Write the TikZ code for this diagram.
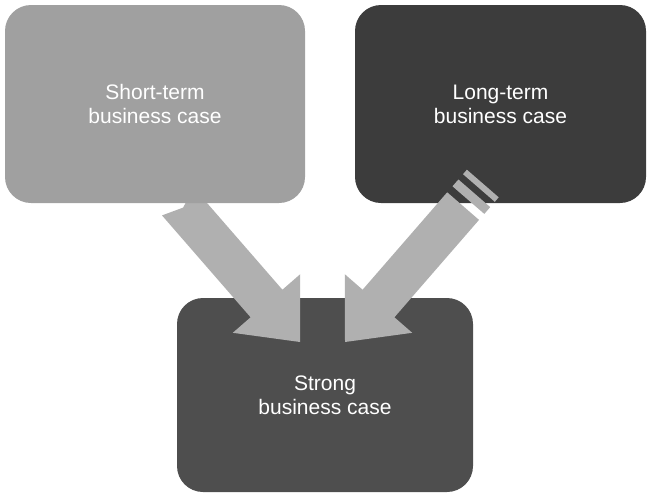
\documentclass[tikz,border=0pt]{standalone}
\usepackage{fontspec}
\setmainfont{Liberation Sans}
\begin{document}
\begin{tikzpicture}[x=1pt,y=-1pt,
  casebox/.style={rounded corners=26pt, inner sep=0pt, align=center,
    text=white, font=\fontsize{21}{24}\selectfont},
  blockarrow/.style={fill=arrowgray, draw=none}]
\definecolor{lightbox}{HTML}{A0A0A0}
\definecolor{darkbox}{HTML}{3C3C3C}
\definecolor{midbox}{HTML}{4E4E4E}
\definecolor{arrowgray}{HTML}{B0B0B0}
\useasboundingbox (0,0) rectangle (652,498);

% target box and the long-term box
\node[casebox, fill=midbox, minimum width=296pt, minimum height=194pt]
  (strong) at (325,395) {Strong\\business case};
\node[casebox, fill=darkbox, minimum width=291pt, minimum height=198pt]
  (long) at (500.5,104) {Long-term\\business case};

% striped block arrow from the long-term box
\coordinate (ra-tip) at (345,342);
\coordinate (ra-barbL) at (344.8,274.2);
\coordinate (ra-neckL) at (362.6,289.7);
\coordinate (ra-tailL) at (447.2,192.3);
\coordinate (ra-tailR) at (479.0,219.9);
\coordinate (ra-neckR) at (394.4,317.3);
\coordinate (ra-barbR) at (412.2,332.8);
\fill[blockarrow] (ra-tip) -- (ra-barbL) -- (ra-neckL) -- (ra-tailL)
  -- (ra-tailR) -- (ra-neckR) -- (ra-barbR) -- cycle;
\fill[blockarrow] (452.5,186.3) -- (458.4,179.5) -- (490.2,207.1) -- (484.3,213.9) -- cycle;
\fill[blockarrow] (463.0,174.2) -- (466.9,169.7) -- (498.7,197.3) -- (494.8,201.8) -- cycle;

% notched block arrow from the short-term box (its tail sits under that box)
\coordinate (la-tip) at (300,342);
\coordinate (la-barbR) at (300.2,274.2);
\coordinate (la-neckR) at (282.4,289.7);
\coordinate (la-tailR) at (193.8,187.8);
\coordinate (la-notch) at (183.1,207.6);
\coordinate (la-tailL) at (162.0,215.4);
\coordinate (la-neckL) at (250.6,317.3);
\coordinate (la-barbL) at (232.8,332.8);
\fill[blockarrow] (la-tip) -- (la-barbR) -- (la-neckR) -- (la-tailR)
  -- (la-notch) -- (la-tailL) -- (la-neckL) -- (la-barbL) -- cycle;

\node[casebox, fill=lightbox, minimum width=300pt, minimum height=198pt]
  (short) at (155,104) {Short-term\\business case};
\end{tikzpicture}
\end{document}
